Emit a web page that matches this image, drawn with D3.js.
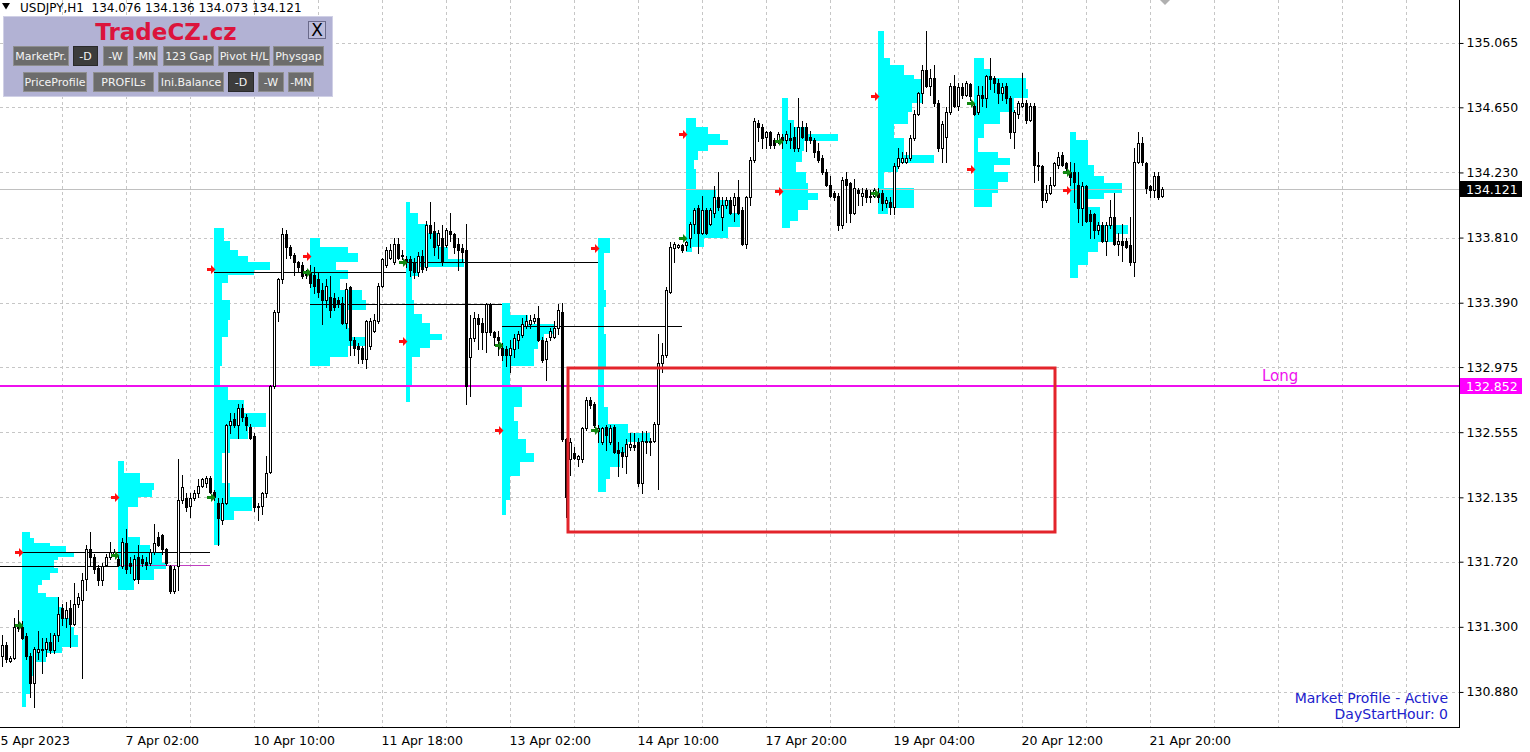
<!DOCTYPE html>
<html><head><meta charset="utf-8">
<script src="https://cdn.jsdelivr.net/npm/d3@7"></script>
<style>body{margin:0;background:#fff;overflow:hidden}svg{display:block}</style>
</head><body><svg id="c" width="1530" height="752"></svg>
<script>
// ---------- DATA ----------
const symbolTitle = "USDJPY,H1";
const lastBar = [134.076, 134.136, 134.073, 134.121];
const priceTicks = [135.065,134.650,134.230,133.810,133.390,132.975,132.555,132.135,131.720,131.300,130.880];
const timeTickIdx = [-1,31,63,95,127,159,191,223,255,287];
const timeLabels = ["5 Apr 2023","7 Apr 02:00","10 Apr 10:00","11 Apr 18:00","13 Apr 02:00","14 Apr 10:00","17 Apr 20:00","19 Apr 04:00","20 Apr 12:00","21 Apr 20:00"];

const open = [
131.11,131.18,131.08,131.10,131.29,131.30,131.24,131.11,130.94,131.14,
131.15,131.16,131.20,131.15,131.25,131.42,131.36,131.42,131.32,131.45,
131.47,131.61,131.80,131.75,131.68,131.60,131.70,131.75,131.77,131.74,
131.69,131.84,131.71,131.61,131.75,131.74,131.72,131.71,131.78,131.88,
131.89,131.80,131.69,131.53,131.69,132.12,132.13,132.08,132.13,132.16,
132.21,132.23,132.26,132.17,132.10,131.99,132.10,132.60,132.64,132.60,
132.71,132.65,132.59,132.53,132.07,132.08,132.16,132.30,132.85,133.33,
133.54,133.83,133.75,133.70,133.65,133.63,133.59,133.59,133.57,133.54,
133.47,133.41,133.43,133.42,133.41,133.39,133.26,133.49,133.15,133.11,
133.10,133.03,133.11,133.21,133.27,133.50,133.63,133.68,133.65,133.77,
133.70,133.67,133.67,133.65,133.59,133.69,133.62,133.89,133.85,133.76,
133.81,133.76,133.85,133.83,133.77,133.74,133.73,133.04,133.16,133.29,
133.26,133.20,133.38,133.20,133.17,133.10,133.09,133.05,133.09,133.15,
133.18,133.24,133.25,133.27,133.29,133.15,133.03,133.17,133.17,133.23,
133.33,132.51,132.38,132.42,132.38,132.38,132.58,132.76,132.74,132.56,
132.49,132.59,132.49,132.59,132.44,132.43,132.40,132.46,132.47,132.49,
132.23,132.49,132.49,132.50,132.61,133.00,133.05,133.46,133.74,133.75,
133.76,133.76,133.81,133.90,134.00,133.84,133.99,133.90,133.97,134.07,
133.94,134.02,134.05,134.02,134.07,133.99,133.77,134.07,134.31,134.55,
134.52,134.46,134.49,134.44,134.44,134.46,134.44,134.45,134.46,134.39,
134.52,134.52,134.46,134.44,134.37,134.32,134.23,134.15,134.10,134.08,
133.89,134.19,134.16,133.97,134.12,134.08,134.12,134.07,134.08,134.10,
134.10,134.03,134.04,134.01,134.27,134.30,134.30,134.32,134.45,134.61,
134.74,134.89,134.79,134.84,134.68,134.39,134.46,134.62,134.79,134.66,
134.78,134.73,134.80,134.66,134.62,134.73,134.71,134.85,134.84,134.81,
134.74,134.79,134.71,134.49,134.61,134.66,134.68,134.57,134.66,134.28,
134.27,134.05,134.10,134.15,134.28,134.34,134.29,134.23,134.23,134.15,
134.00,134.14,133.96,133.96,133.86,133.89,133.79,133.89,133.94,133.77,
133.79,133.79,133.76,133.65,134.30,134.42,134.29,134.14,134.12,134.21,
134.076];
const high = [
131.25,131.20,131.11,131.36,131.41,131.34,131.26,131.13,131.17,131.27,
131.23,131.23,131.26,131.26,131.49,131.45,131.46,131.47,131.58,131.52,
131.65,131.83,131.91,131.77,131.70,131.71,131.77,131.85,131.80,131.76,
131.87,131.93,131.75,131.76,131.83,131.76,131.75,131.80,131.96,131.91,
131.90,131.81,131.70,131.69,132.38,132.28,132.16,132.16,132.18,132.25,
132.26,132.27,132.27,132.18,132.13,132.13,132.61,132.68,132.68,132.74,
132.74,132.67,132.61,132.55,132.10,132.17,132.40,132.86,133.34,133.55,
133.87,133.86,133.76,133.71,133.66,133.65,133.60,133.63,133.62,133.59,
133.52,133.54,133.56,133.45,133.43,133.43,133.52,133.50,133.17,133.13,
133.11,133.28,133.29,133.32,133.52,133.68,133.75,133.77,133.81,133.81,
133.73,133.69,133.69,133.68,133.72,133.73,133.92,134.04,133.91,133.86,
133.89,133.87,133.97,133.84,133.81,133.77,133.90,133.31,133.33,133.32,
133.29,133.39,133.39,133.21,133.21,133.13,133.11,133.15,133.19,133.21,
133.29,133.31,133.31,133.32,133.37,133.17,133.16,133.23,133.27,133.38,
133.39,132.52,132.52,132.46,132.41,132.59,132.78,132.78,132.75,132.60,
132.59,132.60,132.60,132.60,132.49,132.46,132.51,132.55,132.55,132.52,
132.56,132.56,132.52,132.62,133.19,133.13,133.49,133.78,133.78,133.77,
133.77,133.79,133.91,134.00,134.02,134.08,134.00,134.00,134.14,134.23,
134.07,134.07,134.07,134.10,134.18,134.01,134.08,134.33,134.58,134.57,
134.54,134.50,134.50,134.45,134.49,134.48,134.50,134.55,134.52,134.71,
134.56,134.55,134.50,134.45,134.42,134.34,134.25,134.21,134.11,134.10,
134.20,134.23,134.17,134.19,134.13,134.13,134.13,134.12,134.13,134.13,
134.12,134.07,134.07,134.29,134.39,134.36,134.36,134.47,134.63,134.75,
134.92,135.14,134.90,134.92,134.70,134.56,134.65,134.81,134.86,134.81,
134.81,134.82,134.81,134.68,134.79,134.79,134.86,134.97,134.85,134.83,
134.81,134.81,134.72,134.63,134.69,134.87,134.70,134.68,134.68,134.36,
134.28,134.15,134.20,134.30,134.36,134.36,134.30,134.30,134.29,134.23,
134.17,134.15,133.99,133.97,133.91,133.91,133.91,134.05,134.10,133.84,
133.90,133.81,133.94,134.39,134.49,134.46,134.30,134.15,134.23,134.23,
134.136];
const low = [
131.05,131.07,131.07,131.09,131.27,131.22,131.09,130.85,130.78,131.09,
131.00,131.11,131.13,131.13,131.21,131.31,131.30,131.17,131.31,131.43,
130.97,131.54,131.69,131.65,131.57,131.57,131.69,131.74,131.76,131.69,
131.68,131.65,131.65,131.60,131.58,131.69,131.67,131.70,131.77,131.82,
131.77,131.70,131.52,131.52,131.54,132.10,132.05,132.01,132.12,132.14,
132.20,132.20,132.16,132.12,131.83,131.96,132.09,132.55,132.59,132.52,
132.63,132.57,132.51,132.05,131.99,132.03,132.14,132.29,132.84,133.27,
133.52,133.68,133.68,133.57,133.59,133.55,133.55,133.49,133.45,133.43,
133.25,133.36,133.30,133.34,133.36,133.25,133.23,133.05,133.05,133.00,
133.00,132.97,133.09,133.20,133.26,133.49,133.62,133.67,133.64,133.67,
133.67,133.62,133.56,133.55,133.56,133.59,133.60,133.81,133.70,133.68,
133.63,133.75,133.79,133.71,133.60,133.65,132.74,132.79,133.14,133.09,
133.09,133.07,133.18,133.12,133.05,133.02,132.98,132.94,133.04,133.10,
133.17,133.23,133.23,133.26,133.14,133.01,132.89,133.15,133.16,133.19,
132.50,132.01,132.28,132.38,132.34,132.36,132.57,132.71,132.59,132.49,
132.48,132.44,132.48,132.42,132.27,132.33,132.29,132.44,132.44,132.21,
132.16,132.42,132.41,132.49,132.19,132.94,133.04,133.45,133.65,133.74,
133.72,133.73,133.75,133.84,133.71,133.83,133.83,133.89,133.94,133.99,
133.86,134.00,133.96,133.92,133.96,133.76,133.74,134.02,134.30,134.43,
134.39,134.39,134.39,134.39,134.42,134.39,134.42,134.39,134.37,134.37,
134.45,134.37,134.42,134.33,134.30,134.22,134.14,134.07,134.05,133.86,
133.87,133.91,133.91,133.96,134.02,134.02,134.04,134.04,134.07,134.04,
133.99,134.01,133.96,133.96,134.26,134.29,134.29,134.31,134.44,134.60,
134.68,134.78,134.73,134.66,134.37,134.30,134.30,134.61,134.65,134.63,
134.71,134.72,134.70,134.60,134.61,134.66,134.65,134.77,134.75,134.68,
134.70,134.68,134.45,134.39,134.58,134.65,134.55,134.56,134.17,134.18,
134.01,134.04,134.09,134.14,134.26,134.27,134.23,134.15,134.04,133.91,
133.89,133.91,133.81,133.81,133.83,133.78,133.70,133.87,133.76,133.70,
133.66,133.74,133.63,133.56,134.29,134.28,134.10,134.07,134.07,134.06,
134.073];
const close = [
131.18,131.09,131.10,131.30,131.30,131.23,131.11,130.94,131.16,131.16,
131.16,131.20,131.15,131.25,131.38,131.36,131.41,131.32,131.45,131.49,
131.60,131.80,131.75,131.67,131.60,131.69,131.75,131.78,131.78,131.70,
131.85,131.67,131.69,131.74,131.61,131.71,131.70,131.78,131.84,131.83,
131.80,131.71,131.53,131.67,132.12,132.20,132.07,132.13,132.16,132.21,
132.25,132.26,132.17,132.14,132.00,132.10,132.60,132.63,132.60,132.71,
132.65,132.60,132.52,132.07,132.08,132.16,132.29,132.85,133.33,133.54,
133.83,133.75,133.70,133.65,133.62,133.56,133.57,133.52,133.50,133.46,
133.41,133.50,133.34,133.36,133.39,133.26,133.48,133.15,133.10,133.09,
133.03,133.27,133.27,133.28,133.50,133.67,133.73,133.73,133.77,133.68,
133.69,133.65,133.60,133.59,133.69,133.61,133.89,133.84,133.75,133.84,
133.65,133.86,133.83,133.75,133.73,133.72,132.85,133.16,133.29,133.25,
133.20,133.38,133.20,133.17,133.15,133.05,133.05,133.10,133.16,133.19,
133.25,133.27,133.28,133.29,133.15,133.02,133.14,133.21,133.23,133.34,
132.51,132.14,132.49,132.39,132.40,132.58,132.76,132.73,132.60,132.58,
132.58,132.54,132.58,132.43,132.42,132.40,132.48,132.48,132.46,132.23,
132.50,132.50,132.50,132.61,133.00,133.05,133.47,133.75,133.77,133.76,
133.73,133.78,133.90,133.99,133.84,133.99,133.84,133.99,134.07,134.01,
134.02,134.05,133.97,134.07,133.97,133.77,134.07,134.31,134.56,134.52,
134.45,134.49,134.41,134.41,134.48,134.44,134.48,134.44,134.39,134.52,
134.46,134.44,134.44,134.36,134.31,134.23,134.15,134.08,134.07,133.89,
134.18,134.15,133.97,134.13,134.10,134.10,134.07,134.08,134.12,134.07,
134.03,134.05,134.01,134.27,134.32,134.32,134.32,134.45,134.61,134.74,
134.89,134.79,134.84,134.68,134.39,134.54,134.62,134.79,134.66,134.78,
134.73,134.81,134.72,134.61,134.73,134.71,134.85,134.83,134.81,134.74,
134.78,134.71,134.49,134.62,134.68,134.68,134.57,134.66,134.28,134.27,
134.05,134.10,134.15,134.29,134.33,134.28,134.26,134.20,134.17,134.00,
134.14,133.92,133.92,133.86,133.89,133.79,133.89,133.94,133.77,133.79,
133.76,133.75,133.65,134.30,134.42,134.30,134.13,134.12,134.21,134.07,
134.121];

// day starts (bar index) of each market profile
const dayStart = [5,29,53,77,101,125,149,171,195,219,243,267];
// profile level edges (prices, top to bottom) and counts per level
const profileEdges = [
 [131.91,131.87,131.84,131.82,131.78,131.75,131.73,131.71,131.68,131.65,131.60,131.57,131.52,131.49,131.43,131.36,131.30,131.25,131.17,131.13,131.07,130.98,130.87,130.78],
 [132.37,132.29,132.23,132.18,132.14,132.07,131.99,131.88,131.83,131.78,131.71,131.67,131.60,131.54],
 [133.87,133.79,133.73,133.69,133.65,133.60,133.57,133.52,133.41,133.28,133.17,132.98,132.85,132.76,132.68,132.59,132.51,132.42,132.23,132.14,132.05,131.99,131.83],
 [133.81,133.75,133.71,133.65,133.60,133.54,133.47,133.41,133.34,133.23,133.17,133.11,133.04,132.98],
 [134.04,133.97,133.90,133.84,133.75,133.67,133.62,133.56,133.41,133.32,133.26,133.19,133.15,133.10,133.04,132.85,132.75],
 [133.39,133.31,133.25,133.19,133.15,133.09,132.98,132.85,132.72,132.63,132.51,132.42,132.36,132.27,132.12,132.02],
 [133.81,133.71,133.47,133.36,133.19,133.07,132.96,132.72,132.61,132.55,132.49,132.42,132.33,132.25,132.17],
 [134.58,134.52,134.48,134.44,134.41,134.37,134.31,134.25,134.12,134.05,133.97,133.88,133.81,133.75,133.72],
 [134.71,134.57,134.52,134.48,134.43,134.37,134.30,134.23,134.16,134.10,134.05,133.99,133.92,133.87],
 [135.14,134.97,134.92,134.86,134.83,134.75,134.68,134.62,134.54,134.45,134.34,134.29,134.23,134.13,134.00,133.96],
 [134.97,134.90,134.84,134.77,134.71,134.62,134.54,134.45,134.36,134.32,134.28,134.23,134.17,134.10,134.01],
 [134.49,134.44,134.28,134.21,134.16,134.10,134.06,134.01,133.89,133.83,133.78,133.72,133.63,133.55]
];
const profileCounts = [
 [4,6,14,22,26,18,16,16,18,14,10,8,12,18,20,24,26,28,20,12,6,4,2],
 [3,11,18,17,10,5,5,11,16,22,24,18,8],
 [5,8,12,17,28,20,7,4,8,7,4,3,7,15,26,17,8,4,8,19,10,3],
 [5,19,24,13,19,15,26,28,19,21,28,19,10],
 [2,6,11,16,21,29,6,3,4,8,12,18,12,7,3,2],
 [4,13,26,21,18,16,4,10,6,8,12,16,9,4,2],
 [6,3,4,3,4,4,3,5,15,26,15,11,6,4],
 [5,11,17,21,11,6,4,5,15,22,27,21,9,3],
 [3,6,13,28,11,10,7,12,13,18,13,8,4],
 [3,6,13,18,22,22,17,15,8,13,28,10,3,18,5],
 [5,8,26,27,20,13,5,2,12,18,10,17,12,9],
 [3,9,12,17,26,17,9,15,29,22,14,9,4]
];
const pocPrice  = [131.78,132.14,133.61,133.69,133.14,132.57,133.74,134.48,134.11,134.72,134.25,134.12];
const openPrice = [131.31,131.76,132.14,133.59,133.65,133.12,132.57,133.81,134.43,134.10,134.68,134.23];

// extended level lines
const levelPrice = [131.69,131.78,131.70,133.59,133.38,133.65,133.24];
const levelFrom  = [-0.5,5,29,53,77,101,125];
const levelTo    = [29,52,52,101,125,149,170];
const levelKind  = ["poc","poc","va","poc","poc","poc","poc"];

const longPrice = 132.852;
const longLabel = "Long";
const zoneFrom = 141.5, zoneTo = 263.25, zoneHigh = 132.969, zoneLow = 131.912;

const panelRow1 = ["MarketPr.","-D","-W","-MN","123 Gap","Pivot H/L","Physgap"];
const panelRow2 = ["PriceProfile","PROFILs","Ini.Balance","-D","-W","-MN"];
const infoLines = ["Market Profile - Active","DayStartHour: 0"];

// ---------- DRAW ----------
const svg = d3.select("#c");
const plotW = 1459, plotH = 727;
const x = d3.scaleLinear().domain([0, 364.5]).range([2, 1460]);
const y = d3.scaleLinear().domain([130.654, 135.342]).range([727, 0]);
const cScale = d3.scaleLinear().domain([0, 1]).range([0, 2]);
const R = Math.round;
const FONT = "DejaVu Sans, Verdana, sans-serif";

svg.append("rect").attr("width",1530).attr("height",752).attr("fill","#fff");
svg.append("defs").append("clipPath").attr("id","clip")
  .append("rect").attr("x",0).attr("y",0).attr("width",plotW).attr("height",plotH);
const plot = svg.append("g").attr("clip-path","url(#clip)");

// grid
const grid = plot.append("g").attr("stroke","#c6c6c6").attr("stroke-dasharray","3,3").attr("shape-rendering","crispEdges");
grid.selectAll("line.h").data(priceTicks).join("line").attr("class","h")
  .attr("x1",0).attr("x2",plotW).attr("y1",d=>R(y(d))+0.5).attr("y2",d=>R(y(d))+0.5);
grid.selectAll("line.v").data(d3.range(-1,364,16)).join("line").attr("class","v")
  .attr("y1",0).attr("y2",plotH).attr("x1",d=>R(x(d))+0.5).attr("x2",d=>R(x(d))+0.5);

// profiles
const prof = plot.append("g").attr("fill","#00ffff").attr("shape-rendering","crispEdges");
dayStart.forEach((ds,k)=>{
  const e = profileEdges[k], c = profileCounts[k];
  prof.selectAll(null).data(c).join("rect")
    .attr("x", R(x(ds)))
    .attr("y", (d,j)=>R(y(e[j])))
    .attr("height", (d,j)=>R(y(e[j+1]))-R(y(e[j])))
    .attr("width", d=>R(cScale(d)));
});

// level lines
plot.append("g").attr("shape-rendering","crispEdges").selectAll("line").data(levelPrice).join("line")
  .attr("x1",(d,i)=>R(x(levelFrom[i]))).attr("x2",(d,i)=>R(x(levelTo[i])))
  .attr("y1",d=>R(y(d))+0.5).attr("y2",d=>R(y(d))+0.5)
  .attr("stroke",(d,i)=>levelKind[i]==="poc"?"#000":"#c040c0").attr("stroke-width",1);

// current price line
plot.append("line").attr("x1",0).attr("x2",plotW)
  .attr("y1",R(y(lastBar[3]))+0.5).attr("y2",R(y(lastBar[3]))+0.5)
  .attr("stroke","#c0c0c0").attr("shape-rendering","crispEdges");

// Long line
plot.append("line").attr("x1",0).attr("x2",plotW)
  .attr("y1",R(y(longPrice))).attr("y2",R(y(longPrice)))
  .attr("stroke","#ee10ee").attr("stroke-width",2).attr("shape-rendering","crispEdges");
plot.append("text").attr("x",1262).attr("y",R(y(longPrice))-5)
  .attr("font-family",FONT).attr("font-size",15).attr("fill","#ee10ee").text(longLabel);

// candles
const cg = plot.append("g").attr("shape-rendering","crispEdges");
const idx = d3.range(open.length);
cg.selectAll("line.w").data(idx).join("line").attr("class","w")
  .attr("x1",i=>R(x(i))+0.5).attr("x2",i=>R(x(i))+0.5)
  .attr("y1",i=>R(y(high[i]))).attr("y2",i=>R(y(low[i]))+1)
  .attr("stroke","#000");
cg.selectAll("rect.b").data(idx).join("rect").attr("class","b")
  .attr("x",i=>R(x(i))-0.5)
  .attr("y",i=>R(y(Math.max(open[i],close[i])))+0.5)
  .attr("width",2)
  .attr("height",i=>Math.max(0,R(y(Math.min(open[i],close[i])))-R(y(Math.max(open[i],close[i])))))
  .attr("fill",i=>close[i]>=open[i]?"#fff":"#000")
  .attr("stroke","#000");

// markers (day POC = red, day open = green)
function arrow(tx,ty){return `M${tx-8},${ty-1.5}L${tx-4},${ty-1.5}L${tx-4},${ty-4.5}L${tx+0.5},${ty}L${tx-4},${ty+4.5}L${tx-4},${ty+1.5}L${tx-8},${ty+1.5}Z`;}
plot.append("g").selectAll("path").data(dayStart).join("path")
  .attr("d",(d,i)=>arrow(R(x(d))+1,R(y(pocPrice[i]))+0.5)).attr("fill","#ff1010");
plot.append("g").selectAll("path").data(dayStart).join("path")
  .attr("d",(d,i)=>arrow(R(x(d))+1,R(y(openPrice[i]))+0.5)).attr("fill","#118811");

// zone rectangle
plot.append("rect").attr("x",R(x(zoneFrom))).attr("y",R(y(zoneHigh)))
  .attr("width",R(x(zoneTo))-R(x(zoneFrom))).attr("height",R(y(zoneLow))-R(y(zoneHigh)))
  .attr("fill","none").attr("stroke","#e3242b").attr("stroke-width",3);

// chart shift marker
svg.append("path").attr("d","M1160,0L1170,0L1165,5Z").attr("fill","#b0b0b0");

// axes
const yAxis = d3.axisRight(y).tickValues(priceTicks).tickFormat(d3.format(".3f")).tickSize(4).tickSizeOuter(0).tickPadding(3);
const ya = svg.append("g").attr("transform","translate(1459.5,0)").call(yAxis);
ya.select(".domain").remove();
ya.selectAll("text").attr("font-family",FONT).attr("font-size",12.5).attr("fill","#000");
svg.append("line").attr("x1",1459.5).attr("x2",1459.5).attr("y1",0).attr("y2",728).attr("stroke","#000");

const xAxis = d3.axisBottom(x).tickValues(timeTickIdx).tickFormat((d,i)=>timeLabels[i]).tickSize(0).tickSizeOuter(0);
const xa = svg.append("g").attr("transform","translate(0,727.5)").call(xAxis);
xa.select(".domain").remove();
xa.selectAll("text").attr("font-family",FONT).attr("font-size",12.5).attr("fill","#000")
  .attr("text-anchor","start").attr("x",(d,i)=>i===0?2:-1).attr("y",8.5);
svg.append("line").attr("x1",0).attr("x2",1460).attr("y1",727.5).attr("y2",727.5).attr("stroke","#000");

// axis price boxes
function priceBox(p, bg){
  const yc = y(p);
  svg.append("rect").attr("x",1460).attr("y",R(yc)-8).attr("width",62).attr("height",16).attr("fill",bg);
  svg.append("text").attr("x",1466).attr("y",R(yc)+4.5).attr("font-family",FONT).attr("font-size",12.5)
    .attr("fill","#fff").text(p.toFixed(3));
}
priceBox(lastBar[3],"#000");
priceBox(longPrice,"#ff00ff");

// header
svg.append("path").attr("d","M2,3L10,3L6,9.5Z").attr("fill","#000");
svg.append("text").attr("x",20).attr("y",12).attr("font-family",FONT).attr("font-size",12)
  .attr("fill","#000").style("white-space","pre")
  .text(symbolTitle+"  "+lastBar.map(v=>v.toFixed(3)).join(" "));

// info text
svg.selectAll("text.info").data(infoLines).join("text").attr("class","info")
  .attr("x",1448).attr("y",(d,i)=>703+i*16).attr("text-anchor","end")
  .attr("font-family",FONT).attr("font-size",14).attr("fill","#2020cc").text(d=>d);

// panel
const panel = svg.append("g");
panel.append("rect").attr("x",3.5).attr("y",16.5).attr("width",329).attr("height",80)
  .attr("fill","#b2b2d4").attr("stroke","#d0d0e6");
panel.append("text").attr("x",166).attr("y",40).attr("text-anchor","middle")
  .attr("font-family",FONT).attr("font-weight","bold").attr("font-size",23).attr("fill","#dc143c").text("TradeCZ.cz");
panel.append("rect").attr("x",308.5).attr("y",21.5).attr("width",17).attr("height",17)
  .attr("fill","#bcbcda").attr("stroke","#6a6a8a");
panel.append("text").attr("x",317).attr("y",36).attr("text-anchor","middle")
  .attr("font-family",FONT).attr("font-size",17).attr("fill","#000").text("X");
const row1X=[13,73,103,133,163,218,273], row1W=[55,24,24,24,50,51,50];
const row2X=[23,93,158,228,258,288], row2W=[63,60,65,25,25,25];
function buttons(labels, xs, ws, y0, h, darkIdx){
  labels.forEach((t,i)=>{
    const dark = i===darkIdx;
    panel.append("rect").attr("x",xs[i]+0.5).attr("y",y0+0.5).attr("width",ws[i]).attr("height",h)
      .attr("fill",dark?"#3c3c3c":"#6c6c6c").attr("stroke",dark?"#2a2a2a":"#8e8e8e");
    panel.append("text").attr("x",xs[i]+ws[i]/2+0.5).attr("y",y0+h/2+4.5).attr("text-anchor","middle")
      .attr("font-family",FONT).attr("font-size",11).attr("fill","#f4f4f4").text(t);
  });
}
buttons(panelRow1,row1X,row1W,46,19,1);
buttons(panelRow2,row2X,row2W,72,19,3);
</script></body></html>
